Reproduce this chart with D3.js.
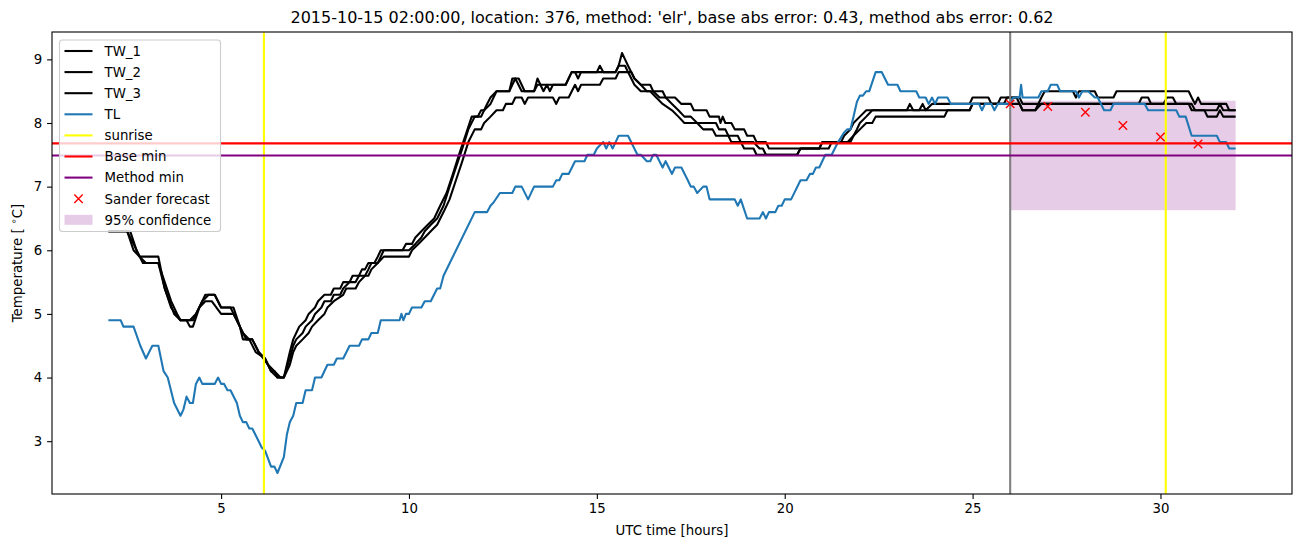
<!DOCTYPE html>
<html><head><meta charset="utf-8">
<script src="https://cdn.jsdelivr.net/npm/d3@7"></script>
<style>
body{margin:0;background:#fff}
text{font-family:"DejaVu Sans",sans-serif;fill:#000}
</style>
</head><body>
<svg id="chart" width="1302" height="547"></svg>
<script>
// ---- data (hours UTC, temperature °C) ----
const TW_1 = [[2.0,6.3],[2.5,6.3],[2.67,6.1],[2.83,5.9],[3.0,5.8],[3.33,5.8],[3.5,5.5],[3.67,5.2],[3.83,5.0],[3.92,4.9],[4.17,4.9],[4.33,5.0],[4.5,5.2],[4.67,5.3],[4.83,5.3],[5.0,5.1],[5.33,5.1],[5.5,4.8],[5.58,4.6],[5.83,4.6],[6.0,4.4],[6.17,4.3],[6.33,4.1],[6.5,4.0],[6.67,4.0],
 [6.83,4.4],[6.92,4.6],[7.0,4.7],[7.08,4.8],[7.25,4.9],[7.33,5.0],[7.5,5.1],[7.58,5.2],[7.75,5.3],[7.92,5.3],[8.0,5.4],[8.17,5.4],[8.25,5.5],[8.42,5.5],[8.5,5.6],[8.67,5.6],[8.75,5.7],[8.83,5.7],[8.92,5.8],[9.08,5.8],[9.17,5.9],[9.25,6.0],[9.83,6.0],[9.92,6.1],[10.08,6.1],[10.17,6.2],[10.33,6.3],[10.5,6.4],[10.67,6.5],[10.83,6.7],[11.0,6.9],[11.17,7.2],[11.33,7.5],[11.5,7.8],[11.67,8.1],[11.83,8.1],[11.92,8.2],[12.0,8.2],[12.08,8.3],[12.17,8.4],[12.33,8.5],[12.67,8.5],[12.83,8.7],[13.0,8.5],[13.33,8.5],[13.42,8.7],[13.58,8.5],[13.67,8.6],[13.75,8.5],[13.83,8.6],[14.17,8.6],[14.33,8.8],[15.0,8.8],[15.08,8.9],[15.17,8.8],[15.5,8.8],[15.58,8.9],[15.67,9.1],[15.75,9.0],[15.83,8.9],[16.0,8.7],[16.17,8.6],[16.33,8.5],[16.5,8.5],[16.67,8.4],[16.83,8.4],[17.0,8.3],[17.17,8.2],[17.33,8.1],[17.5,8.1],[17.67,8.0],[18.17,8.0],[18.25,7.9],[18.42,7.9],[18.5,7.8],[18.75,7.8],[18.83,7.7],[19.17,7.7],[19.33,7.6],[19.42,7.6],[19.5,7.5],[20.33,7.5],[20.42,7.6],[20.92,7.6],[21.0,7.7],[21.67,7.7],[21.83,7.8],[21.92,7.9],[22.0,8.0],[22.17,8.1],[22.33,8.2],[23.25,8.2],[23.33,8.3],[23.42,8.2],[23.58,8.2],[23.67,8.3],[23.75,8.2],[23.92,8.3],[24.92,8.3],[25.0,8.4],[25.42,8.4],[25.5,8.3],[25.67,8.3],[25.75,8.4],[26.17,8.4],[26.33,8.2],[26.67,8.2],[26.83,8.4],[26.92,8.5],[27.67,8.5],[27.75,8.4],[27.83,8.5],[28.25,8.5],[28.33,8.4],[28.75,8.4],[28.83,8.5],[30.75,8.5],[30.83,8.4],[30.92,8.3],[31.0,8.4],[31.08,8.3],[31.75,8.3],[31.83,8.2],[32.0,8.2]];
const TW_2 = [[2.0,6.3],[2.5,6.3],[2.67,6.0],[2.83,5.9],[3.33,5.9],[3.5,5.4],[3.67,5.1],[3.92,4.9],[4.08,4.9],[4.17,4.8],[4.25,4.8],[4.42,5.1],[4.58,5.3],[4.83,5.3],[5.0,5.1],[5.25,5.1],[5.42,4.9],[5.58,4.7],[5.75,4.6],[5.92,4.4],[6.17,4.3],[6.33,4.1],[6.42,4.1],[6.58,4.0],[6.67,4.0],
 [6.83,4.3],[6.92,4.5],[7.0,4.6],[7.17,4.7],[7.25,4.8],[7.42,4.9],[7.5,5.0],[7.67,5.1],[7.75,5.2],[7.92,5.2],[8.0,5.3],[8.17,5.3],[8.25,5.4],[8.42,5.5],[8.58,5.5],[8.67,5.6],[8.83,5.6],[8.92,5.7],[9.0,5.8],[9.17,5.8],[9.25,5.9],[9.33,6.0],[10.0,6.0],[10.17,6.1],[10.33,6.2],[10.42,6.3],[10.58,6.4],[10.75,6.5],[10.92,6.7],[11.08,7.0],[11.25,7.3],[11.42,7.6],[11.58,7.9],[11.75,8.1],[11.92,8.1],[12.0,8.2],[12.17,8.3],[12.33,8.5],[12.67,8.5],[12.75,8.7],[12.92,8.7],[13.08,8.5],[13.33,8.5],[13.42,8.6],[14.17,8.6],[14.33,8.8],[14.42,8.8],[14.5,8.7],[14.58,8.8],[15.5,8.8],[15.58,8.9],[15.75,8.9],[15.83,8.8],[16.0,8.6],[16.17,8.5],[16.42,8.5],[16.58,8.4],[16.75,8.3],[17.0,8.2],[17.17,8.1],[17.33,8.0],[17.67,8.0],[17.83,7.9],[18.08,7.9],[18.17,7.8],[18.5,7.8],[18.58,7.7],[18.83,7.7],[18.92,7.6],[19.17,7.6],[19.25,7.5],[20.33,7.5],[20.42,7.6],[21.17,7.6],[21.25,7.7],[21.5,7.7],[21.58,7.8],[21.75,7.9],[21.83,8.0],[22.0,8.1],[22.17,8.2],[24.92,8.2],[25.0,8.3],[25.83,8.3],[25.92,8.4],[26.25,8.4],[26.33,8.3],[29.42,8.3],[29.5,8.4],[29.67,8.4],[29.75,8.3],[30.08,8.3],[30.17,8.4],[30.33,8.4],[30.42,8.3],[30.83,8.3],[30.92,8.2],[31.5,8.2],[31.58,8.3],[31.67,8.2],[32.0,8.2]];
const TW_3 = [[2.0,6.3],[2.58,6.3],[2.75,6.0],[2.92,5.8],[3.33,5.8],[3.5,5.4],[3.75,5.0],[3.92,4.9],[4.25,4.9],[4.42,5.1],[4.58,5.2],[4.75,5.2],[5.0,5.0],[5.33,5.0],[5.5,4.8],[5.67,4.6],[5.83,4.6],[6.0,4.4],[6.25,4.2],[6.42,4.1],[6.5,4.0],[6.67,4.0],
 [6.83,4.2],[6.92,4.4],[7.0,4.5],[7.17,4.6],[7.33,4.7],[7.42,4.8],[7.58,4.9],[7.75,5.0],[7.83,5.1],[8.0,5.2],[8.25,5.3],[8.33,5.4],[8.58,5.4],[8.67,5.5],[8.83,5.6],[8.92,5.6],[9.0,5.7],[9.17,5.8],[9.33,5.9],[10.0,5.9],[10.08,6.0],[10.25,6.1],[10.42,6.2],[10.58,6.3],[10.75,6.4],[10.92,6.6],[11.08,6.8],[11.25,7.1],[11.42,7.4],[11.58,7.7],[11.75,7.9],[11.92,7.9],[12.0,8.0],[12.17,8.1],[12.33,8.2],[12.5,8.2],[12.58,8.3],[12.75,8.3],[12.83,8.4],[13.0,8.4],[13.08,8.3],[13.17,8.4],[13.83,8.4],[13.92,8.3],[14.0,8.4],[14.25,8.4],[14.42,8.6],[14.5,8.5],[14.58,8.6],[15.08,8.6],[15.17,8.7],[15.5,8.7],[15.58,8.8],[15.92,8.8],[16.0,8.7],[16.17,8.6],[16.42,8.6],[16.5,8.5],[16.75,8.5],[16.83,8.4],[17.08,8.4],[17.25,8.3],[17.5,8.3],[17.58,8.2],[17.92,8.2],[18.0,8.1],[18.25,8.1],[18.29,8.0],[18.35,8.1],[18.42,8.0],[18.58,8.0],[18.67,7.9],[18.92,7.9],[19.0,7.8],[19.17,7.8],[19.25,7.7],[19.5,7.7],[19.58,7.6],[20.92,7.6],[21.0,7.7],[21.75,7.7],[21.83,7.8],[22.0,7.9],[22.17,8.0],[22.33,8.0],[22.42,8.1],[24.25,8.1],[24.33,8.2],[24.92,8.2],[25.0,8.3],[26.25,8.3],[26.33,8.2],[26.67,8.2],[26.83,8.3],[30.75,8.3],[30.83,8.2],[31.17,8.2],[31.25,8.1],[31.5,8.1],[31.58,8.2],[31.67,8.1],[32.0,8.1]];
const TL = [[2.0,4.9],[2.33,4.9],[2.4,4.8],[2.67,4.8],[2.85,4.5],[3.0,4.3],[3.17,4.5],[3.33,4.5],[3.47,4.1],[3.58,4.0],[3.75,3.6],[3.92,3.4],[4.0,3.5],[4.08,3.7],[4.17,3.6],[4.25,3.6],[4.33,3.9],[4.42,4.0],[4.5,3.9],[4.83,3.9],[4.92,4.0],[5.0,3.9],[5.08,3.9],[5.17,3.8],[5.25,3.8],[5.42,3.6],[5.5,3.4],[5.58,3.3],[5.67,3.3],[5.75,3.2],[5.83,3.2],[6.0,3.0],[6.08,2.9],[6.17,2.85],[6.33,2.6],[6.42,2.6],[6.5,2.5],[6.67,2.75],[6.75,3.1],[6.83,3.3],[6.92,3.4],[7.0,3.6],[7.17,3.6],[7.25,3.8],[7.42,3.8],[7.5,4.0],[7.67,4.0],[7.83,4.2],[8.0,4.2],[8.08,4.3],[8.25,4.3],[8.42,4.5],[8.67,4.5],[8.75,4.6],[8.92,4.6],[9.0,4.7],[9.17,4.7],[9.25,4.9],[9.75,4.9],[9.8,5.0],[9.85,4.9],[9.92,5.0],[10.0,5.0],[10.08,5.1],[10.33,5.1],[10.42,5.2],[10.58,5.2],[10.75,5.4],[10.83,5.4],[10.92,5.6],[11.75,6.6],[12.08,6.6],[12.17,6.7],[12.25,6.75],[12.42,6.9],[12.75,6.9],[12.83,7.0],[13.0,7.0],[13.17,6.8],[13.33,7.0],[13.83,7.0],[13.92,7.1],[14.0,7.1],[14.08,7.2],[14.25,7.2],[14.42,7.4],[14.67,7.4],[14.75,7.5],[14.92,7.5],[15.0,7.6],[15.17,7.7],[15.25,7.6],[15.33,7.7],[15.42,7.6],[15.5,7.7],[15.58,7.8],[15.83,7.8],[16.08,7.5],[16.17,7.5],[16.33,7.4],[16.42,7.4],[16.5,7.5],[16.58,7.5],[16.75,7.3],[16.83,7.4],[17.0,7.2],[17.08,7.3],[17.25,7.3],[17.42,7.1],[17.5,7.0],[17.58,7.0],[17.67,6.9],[17.83,7.0],[17.92,7.0],[18.0,6.8],[18.67,6.8],[18.75,6.7],[18.83,6.8],[19.0,6.5],[19.33,6.5],[19.42,6.6],[19.5,6.5],[19.58,6.6],[19.75,6.6],[19.83,6.7],[19.92,6.7],[20.0,6.8],[20.17,6.8],[20.42,7.1],[20.58,7.1],[20.67,7.2],[20.75,7.2],[20.83,7.3],[20.92,7.3],[21.08,7.5],[21.25,7.5],[21.42,7.7],[21.58,7.85],[21.67,7.9],[21.75,7.9],[21.83,8.1],[21.92,8.33],[22.0,8.43],[22.08,8.43],[22.17,8.5],[22.25,8.5],[22.42,8.8],[22.58,8.8],[22.75,8.6],[23.0,8.6],[23.08,8.5],[23.5,8.5],[23.58,8.4],[23.75,8.4],[23.83,8.3],[23.92,8.4],[24.0,8.3],[24.08,8.4],[24.33,8.4],[24.42,8.3],[25.17,8.3],[25.25,8.2],[25.33,8.3],[25.5,8.3],[25.58,8.2],[25.67,8.3],[26.0,8.3],[26.08,8.4],[26.25,8.4],[26.29,8.6],[26.33,8.4],[26.75,8.4],[26.83,8.5],[27.0,8.5],[27.08,8.6],[27.25,8.6],[27.33,8.5],[27.75,8.5],[27.83,8.4],[27.92,8.5],[28.08,8.5],[28.25,8.4],[28.33,8.4],[28.5,8.2],[28.67,8.2],[28.75,8.3],[29.58,8.3],[29.67,8.2],[30.42,8.2],[30.5,8.1],[30.67,8.1],[30.83,7.8],[31.5,7.8],[31.58,7.7],[31.75,7.7],[31.83,7.6],[32.0,7.6]];
const forecastHours = [26,27,28,29,30,31];
const forecastTemp  = [8.30,8.26,8.17,7.96,7.78,7.67];
const confidenceSpan = [26.0,32.0];
const confidenceTemp = [6.63,8.35];
const sunriseHours = [6.14,30.14];
const forecastStart = 26.0;
const baseMin = 7.68;
const methodMin = 7.49;
const xTicks = [5,10,15,20,25,30];
const yTicks = [3,4,5,6,7,8,9];
const titleText = "2015-10-15 02:00:00, location: 376, method: 'elr', base abs error: 0.43, method abs error: 0.62";

// ---- layout ----
const L=52,R=1292,T=32,B=494;
const svg=d3.select("#chart");
const x=d3.scaleLinear().domain([0.5,33.5]).range([L,R]);
const y=d3.scaleLinear().domain([2.17,9.43]).range([B,T]);
const blue="#1f77b4";

svg.append("defs").append("clipPath").attr("id","clip")
  .append("rect").attr("x",L).attr("y",T).attr("width",R-L).attr("height",B-T);
const plot=svg.append("g").attr("clip-path","url(#clip)");

// confidence band
plot.append("rect").attr("x",x(confidenceSpan[0])).attr("width",x(confidenceSpan[1])-x(confidenceSpan[0]))
  .attr("y",y(confidenceTemp[1])).attr("height",y(confidenceTemp[0])-y(confidenceTemp[1]))
  .attr("fill","purple").attr("fill-opacity",0.2);

const line=d3.line().x(d=>x(d[0])).y(d=>y(d[1]));
[TW_1,TW_2,TW_3].forEach(s=>plot.append("path").attr("d",line(s)).attr("fill","none")
  .attr("stroke","#000").attr("stroke-width",2.08).attr("stroke-linejoin","round"));
plot.append("path").attr("d",line(TL)).attr("fill","none").attr("stroke",blue)
  .attr("stroke-width",2.08).attr("stroke-linejoin","round");

// vertical and horizontal reference lines
sunriseHours.forEach(h=>plot.append("line").attr("x1",x(h)).attr("x2",x(h)).attr("y1",T).attr("y2",B)
  .attr("stroke","#ffff00").attr("stroke-width",2.08));
plot.append("line").attr("x1",x(forecastStart)).attr("x2",x(forecastStart)).attr("y1",T).attr("y2",B)
  .attr("stroke","#808080").attr("stroke-width",2.08);
plot.append("line").attr("x1",L).attr("x2",R).attr("y1",y(baseMin)).attr("y2",y(baseMin))
  .attr("stroke","#ff0000").attr("stroke-width",2.08);
plot.append("line").attr("x1",L).attr("x2",R).attr("y1",y(methodMin)).attr("y2",y(methodMin))
  .attr("stroke","#800080").attr("stroke-width",2.08);

// forecast crosses
const ms=4.2;
forecastHours.forEach((h,i)=>{
  const cx=x(h), cy=y(forecastTemp[i]);
  plot.append("path").attr("d",`M${cx-ms},${cy-ms}L${cx+ms},${cy+ms}M${cx-ms},${cy+ms}L${cx+ms},${cy-ms}`)
    .attr("stroke","#ff0000").attr("stroke-width",1.4).attr("fill","none");
});

// axes
const xAxis=svg.append("g").attr("transform",`translate(0,${B})`)
  .call(d3.axisBottom(x).tickValues(xTicks).tickSize(4.9).tickPadding(4.9).tickFormat(d3.format("d")));
const yAxis=svg.append("g").attr("transform",`translate(${L},0)`)
  .call(d3.axisLeft(y).tickValues(yTicks).tickSize(4.9).tickPadding(4.9).tickFormat(d3.format("d")));
[xAxis,yAxis].forEach(a=>{
  a.select(".domain").remove();
  a.selectAll(".tick line").attr("stroke","#000").attr("stroke-width",1.1);
  a.selectAll(".tick text").attr("font-size","13.33px").attr("font-family","DejaVu Sans").attr("fill","#000");
});
svg.append("rect").attr("x",L).attr("y",T).attr("width",R-L).attr("height",B-T)
  .attr("fill","none").attr("stroke","#000").attr("stroke-width",1.1);

// labels
svg.append("text").attr("x",(L+R)/2).attr("y",23).attr("text-anchor","middle")
  .attr("font-size","16px").text(titleText);
svg.append("text").attr("x",(L+R)/2).attr("y",535).attr("text-anchor","middle")
  .attr("font-size","13.33px").text("UTC time [hours]");
const yl=svg.append("text").attr("transform",`translate(22,${(T+B)/2}) rotate(-90)`)
  .attr("text-anchor","middle").attr("font-size","13.33px");
yl.append("tspan").text("Temperature [ ");
yl.append("tspan").attr("dy",-5).attr("font-size","9.5px").text("∘");
yl.append("tspan").attr("dy",5).text("C]");

// legend
const legendItems=[
  {label:"TW_1",type:"line",color:"#000"},
  {label:"TW_2",type:"line",color:"#000"},
  {label:"TW_3",type:"line",color:"#000"},
  {label:"TL",type:"line",color:blue},
  {label:"sunrise",type:"line",color:"#ffff00"},
  {label:"Base min",type:"line",color:"#ff0000"},
  {label:"Method min",type:"line",color:"#800080"},
  {label:"Sander forecast",type:"x",color:"#ff0000"},
  {label:"95% confidence",type:"patch",color:"purple"}
];
const lg=svg.append("g");
lg.append("rect").attr("x",59.5).attr("y",40).attr("width",161).attr("height",191.5).attr("rx",3)
  .attr("fill","#fff").attr("fill-opacity",0.8).attr("stroke","#cccccc").attr("stroke-width",1.1);
legendItems.forEach((it,i)=>{
  const cy=51+i*21.1;
  if(it.type==="line"){
    lg.append("line").attr("x1",64.5).attr("x2",92.5).attr("y1",cy).attr("y2",cy)
      .attr("stroke",it.color).attr("stroke-width",2.08);
  }else if(it.type==="x"){
    const cx=78.5;
    lg.append("path").attr("d",`M${cx-ms},${cy-ms}L${cx+ms},${cy+ms}M${cx-ms},${cy+ms}L${cx+ms},${cy-ms}`)
      .attr("stroke",it.color).attr("stroke-width",1.4);
  }else{
    lg.append("rect").attr("x",64.5).attr("y",cy-5).attr("width",28).attr("height",10)
      .attr("fill",it.color).attr("fill-opacity",0.2);
  }
  lg.append("text").attr("x",104.5).attr("y",cy+4.8).attr("font-size","13.33px").text(it.label);
});
</script>
</body></html>
